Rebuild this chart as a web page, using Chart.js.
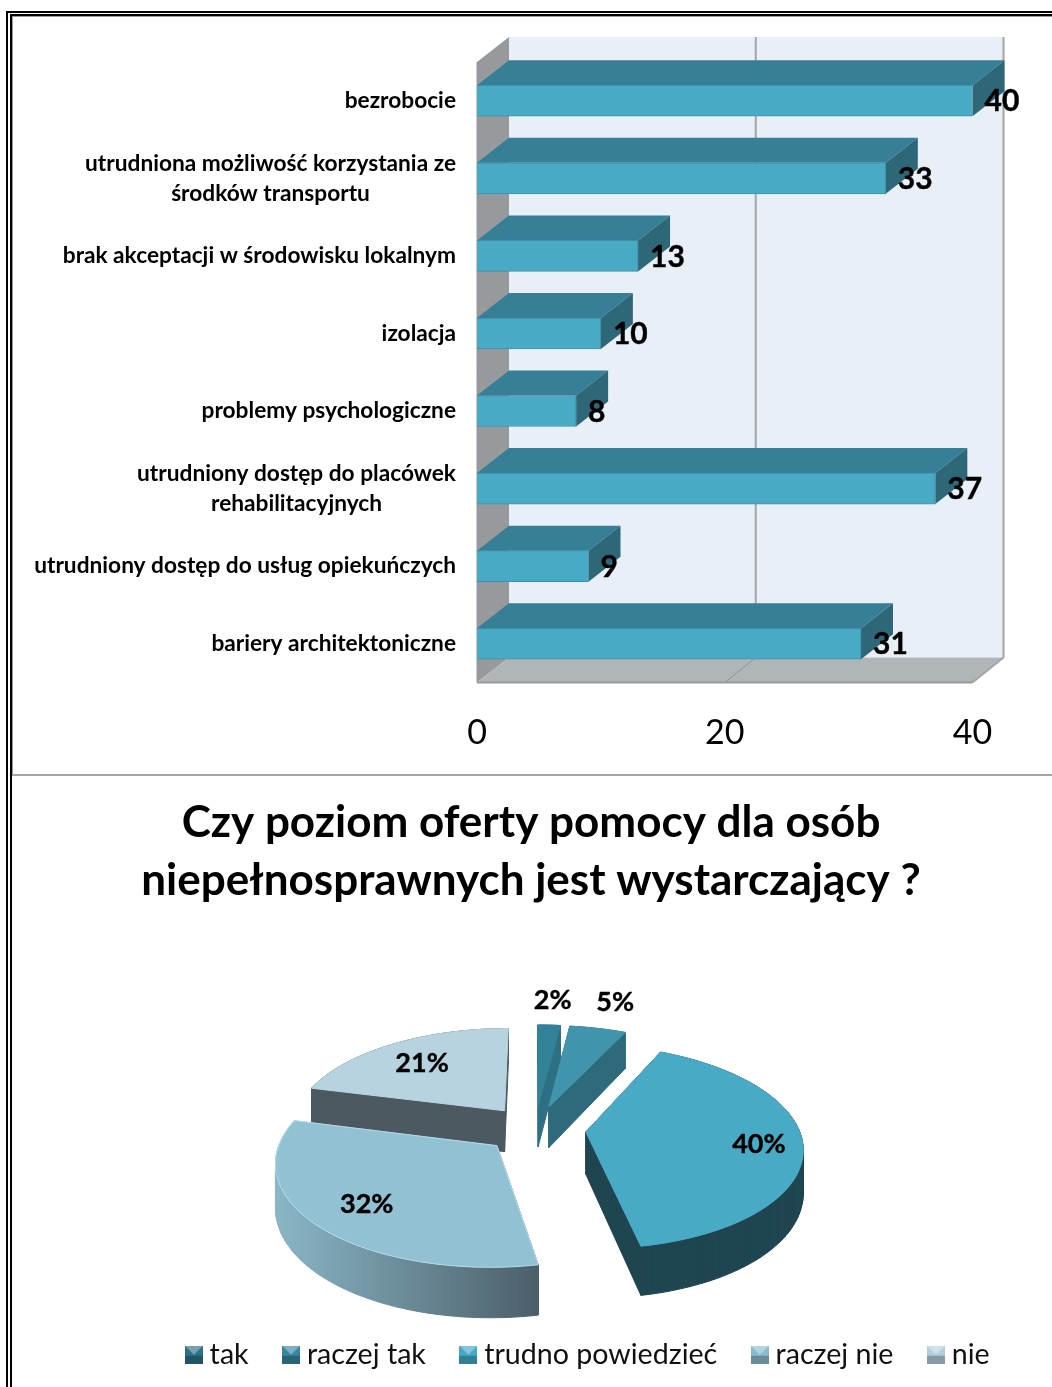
<!DOCTYPE html>
<html lang="pl">
<head>
<meta charset="utf-8">
<title>Bariery i poziom oferty pomocy</title>
<script src="https://cdn.jsdelivr.net/npm/chart.js@4"></script>
<style>
  html, body { margin: 0; padding: 0; background: #fff; }
  body { position: relative; width: 1052px; height: 1387px; overflow: hidden; }
  canvas { position: absolute; }
  #barChart { left: 0; top: 0; }
  #pieChart { left: 10px; top: 776px; }
  .frame { position: absolute; background: #000; }
</style>
</head>
<body>
<canvas id="barChart" width="1052" height="775"></canvas>
<canvas id="pieChart" width="1042" height="611"></canvas>
<div class="frame" style="left:6px;top:11px;width:2px;height:1376px"></div>
<div class="frame" style="left:10px;top:14px;width:2px;height:1373px"></div>
<div class="frame" style="left:12px;top:16px;width:1px;height:760px;background:#999"></div>
<div class="frame" style="left:6px;top:11px;width:1046px;height:2px"></div>
<div class="frame" style="left:10px;top:14px;width:1042px;height:2px"></div>
<div class="frame" style="left:12px;top:16px;width:1040px;height:1px;background:#999"></div>
<div class="frame" style="left:12px;top:774px;width:1040px;height:2px;background:#a6a6a6"></div>

<script>
// Bar chart data
const barCategories = [
  ["bezrobocie"],
  ["utrudniona możliwość korzystania ze", "środków transportu"],
  ["brak akceptacji w środowisku lokalnym"],
  ["izolacja"],
  ["problemy psychologiczne"],
  ["utrudniony dostęp do placówek", "rehabilitacyjnych"],
  ["utrudniony dostęp do usług opiekuńczych"],
  ["bariery architektoniczne"],
];
const barValues = [40, 33, 13, 10, 8, 37, 9, 31];
const barTicks = [0, 20, 40];

// Pie chart data
const pieTitle = ["Czy poziom oferty pomocy dla osób", "niepełnosprawnych jest wystarczający ?"];
const pieCategories = ["tak", "raczej tak", "trudno powiedzieć", "raczej nie", "nie"];
const pieValues = [2, 5, 40, 32, 21];

// Slice colours
const pieTopColors = ["#32829a", "#4095ad", "#49aac6", "#92c1d3", "#b7d3df"];
const pieSideColors = ["#2d6f83", "#2f6a7c", "#1f4551", null, "#4d5960"];
const pieLegendColors = ["#2c7186", "#37869e", "#42aac6", "#8bbccd", "#b3cfdb"];

const FONT = "Lato, Carlito, sans-serif";

document.addEventListener("DOMContentLoaded", function () {
  // 3D look of the bars: walls, floor and the top/side of every bar
  const DEPTH_X = 32;
  const DEPTH_Y = 25;

  function poly(ctx, points, fill) {
    ctx.beginPath();
    points.forEach((p, i) => (i ? ctx.lineTo(p[0], p[1]) : ctx.moveTo(p[0], p[1])));
    ctx.closePath();
    ctx.fillStyle = fill;
    ctx.fill();
  }

  const bar3dPlugin = {
    id: "bar3d",
    beforeDatasetsDraw(chart) {
      const { ctx, chartArea: a, scales } = chart;
      const backL = a.left + DEPTH_X;
      const backR = a.right + DEPTH_X;
      const backT = a.top - DEPTH_Y;
      const backB = a.bottom - DEPTH_Y;
      ctx.save();
      poly(ctx, [[backL, backT], [backR, backT], [backR, backB], [backL, backB]], "#e8eff7");
      poly(ctx, [[a.left, a.top], [backL, backT], [backL, backB], [a.left, a.bottom]], "#97999d");
      poly(ctx, [[a.left, a.bottom], [backL, backB], [backR, backB], [a.right, a.bottom]], "#b0b5b8");

      // gridlines run over the back wall and the floor
      ctx.strokeStyle = "#a3a5a7";
      ctx.lineWidth = 2;
      scales.x.ticks.forEach((t) => {
        if (t.value === 0) return;
        const x = scales.x.getPixelForValue(t.value);
        ctx.beginPath();
        ctx.moveTo(x + DEPTH_X - 1, backT);
        ctx.lineTo(x + DEPTH_X - 1, backB);
        ctx.stroke();
        if (t.value === 40) {
          ctx.beginPath();
          ctx.moveTo(x + DEPTH_X - 1, backB);
          ctx.lineTo(x, a.bottom);
          ctx.stroke();
        } else {
          ctx.lineWidth = 1;
          ctx.strokeStyle = "#8f9396";
          ctx.beginPath();
          ctx.moveTo(x + DEPTH_X - 1, backB);
          ctx.lineTo(x, a.bottom);
          ctx.stroke();
          ctx.lineWidth = 2;
          ctx.strokeStyle = "#a3a5a7";
        }
      });
      ctx.beginPath();
      ctx.moveTo(a.left, a.bottom);
      ctx.lineTo(a.right, a.bottom);
      ctx.strokeStyle = "#96999b";
      ctx.stroke();
      ctx.beginPath();
      ctx.moveTo(a.left, a.top);
      ctx.lineTo(a.left, a.bottom);
      ctx.lineWidth = 1;
      ctx.stroke();

      chart.getDatasetMeta(0).data.forEach((bar) => {
        const h = bar.height / 2;
        const x0 = bar.base;
        const x1 = bar.x;
        const top = bar.y - h;
        const bottom = bar.y + h;
        poly(ctx, [[x0, top], [x0 + DEPTH_X, top - DEPTH_Y], [x1 + DEPTH_X, top - DEPTH_Y], [x1, top]], "#377f96");
        poly(ctx, [[x1, top], [x1 + DEPTH_X, top - DEPTH_Y], [x1 + DEPTH_X, bottom - DEPTH_Y], [x1, bottom]], "#2e6878");
      });
      ctx.restore();
    },
    afterDatasetsDraw(chart) {
      const { ctx, scales } = chart;
      ctx.save();
      ctx.fillStyle = "#000";
      ctx.strokeStyle = "#000";
      // value labels
      ctx.font = "bold 30px " + FONT;
      ctx.textAlign = "left";
      ctx.textBaseline = "middle";
      ctx.lineWidth = 0.4;
      chart.getDatasetMeta(0).data.forEach((bar, i) => {
        ctx.fillText(barValues[i], bar.x + 12, bar.y + 1);
        ctx.strokeText(barValues[i], bar.x + 12, bar.y + 1);
      });
      // category labels, wrapped lines are centred inside their block
      ctx.font = "bold 22.7px " + FONT;
      barCategories.forEach((lines, i) => {
        const y = scales.y.getPixelForTick(i);
        const widest = Math.max(...lines.map((l) => ctx.measureText(l).width));
        const right = 456;
        ctx.textAlign = "center";
        lines.forEach((line, n) => {
          ctx.fillText(line, right - widest / 2, y + (n - (lines.length - 1) / 2) * 30);
        });
      });
      ctx.restore();
    },
  };

  new Chart(document.getElementById("barChart"), {
    type: "bar",
    data: {
      labels: barCategories,
      datasets: [
        {
          data: barValues,
          backgroundColor: "#49aac6",
          borderColor: "#3c90a9",
          borderWidth: 1,
          barThickness: 31,
        },
      ],
    },
    options: {
      indexAxis: "y",
      responsive: false,
      animation: false,
      events: [],
      layout: { padding: { top: 62, right: 79.5, bottom: 0, left: 0 } },
      plugins: { legend: { display: false }, tooltip: { enabled: false } },
      scales: {
        x: {
          min: 0,
          max: 40,
          afterBuildTicks(scale) {
            scale.ticks = barTicks.map((value) => ({ value }));
          },
          afterFit(scale) {
            scale.height = 92.5;
          },
          grid: { display: false },
          border: { display: false },
          ticks: {
            color: "#000",
            padding: 22,
            maxRotation: 0,
            font: { family: FONT, size: 34 },
          },
        },
        y: {
          afterFit(scale) {
            scale.width = 477;
          },
          grid: { display: false },
          border: { display: false },
          ticks: { display: false },
        },
      },
    },
    plugins: [bar3dPlugin],
  });

  // Pie: the library lays out the angles, this plugin tilts them in perspective
  const PIE_X = 535 - 10;
  const PIE_Y = 1129 - 776;
  const PIE_RADIUS = 213;
  const PIE_OFFSET = 51;
  const PIE_TILT = 0.4645;
  const PIE_DIST = 1481;
  const PIE_DROP = 42;
  const drawOrder = [4, 0, 1, 2, 3];
  const labelRadius = [1.4, 1.42, 0.8, 0.74, 0.72];

  function project(u, v, drop) {
    const s = 1 / (1 + v / PIE_DIST);
    return [PIE_X + u * s, PIE_Y - PIE_TILT * v * s + (drop || 0) * s];
  }

  function sliceOutline(arc) {
    const mid = (arc.startAngle + arc.endAngle) / 2;
    const off = arc.options.offset;
    const ou = Math.cos(mid) * off;
    const ov = -Math.sin(mid) * off;
    const pts = [[ou, ov]];
    const steps = Math.max(2, Math.ceil((arc.endAngle - arc.startAngle) / 0.03));
    for (let i = 0; i <= steps; i++) {
      const a = arc.startAngle + ((arc.endAngle - arc.startAngle) * i) / steps;
      pts.push([ou + Math.cos(a) * arc.outerRadius, ov - Math.sin(a) * arc.outerRadius]);
    }
    return pts;
  }

  const pie3dPlugin = {
    id: "pie3d",
    afterLayout(chart) {
      // legend sits right of centre in the original
      chart.legend.left += 60;
      chart.legend.right += 60;
      chart.legend.top -= 8;
      chart.legend.bottom -= 8;
    },
    beforeDatasetsDraw(chart) {
      const { ctx } = chart;
      const arcs = chart.getDatasetMeta(0).data;
      ctx.save();
      ctx.lineWidth = 1;
      ctx.lineJoin = "round";
      drawOrder.forEach((i) => {
        const pts = sliceOutline(arcs[i]);
        let side = pieSideColors[i];
        if (!side) {
          side = ctx.createLinearGradient(PIE_X - 260, 0, PIE_X + 5, 0);
          side.addColorStop(0, "#8ab6c7");
          side.addColorStop(1, "#4a5e68");
        }
        // outer wall and cut faces
        pts.forEach((p, n) => {
          const q = pts[(n + 1) % pts.length];
          const a = project(p[0], p[1]);
          const b = project(q[0], q[1]);
          const c = project(q[0], q[1], PIE_DROP);
          const d = project(p[0], p[1], PIE_DROP);
          ctx.strokeStyle = side;
          poly(ctx, [a, b, c, d], side);
          ctx.stroke();
        });
        // top face
        poly(ctx, pts.map((p) => project(p[0], p[1])), pieTopColors[i]);
        ctx.strokeStyle = i === 3 ? "#b5dcea" : pieTopColors[i];
        ctx.stroke();
      });

      // percentage labels
      ctx.fillStyle = "#000";
      ctx.strokeStyle = "#000";
      ctx.lineWidth = 0.4;
      ctx.font = "bold 27px " + FONT;
      ctx.textAlign = "center";
      ctx.textBaseline = "middle";
      arcs.forEach((arc, i) => {
        const mid = (arc.startAngle + arc.endAngle) / 2;
        const r = arc.outerRadius * labelRadius[i] + arc.options.offset;
        const p = project(Math.cos(mid) * r, -Math.sin(mid) * r);
        ctx.fillText(pieValues[i] + "%", p[0], p[1] + 2);
        ctx.strokeText(pieValues[i] + "%", p[0], p[1] + 2);
      });
      ctx.restore();
      return false;
    },
  };

  // small shaded legend keys
  function legendKey(color) {
    const key = document.createElement("canvas");
    key.width = 18;
    key.height = 18;
    const c = key.getContext("2d");
    c.fillStyle = color;
    c.fillRect(0, 0, 18, 18);
    c.fillStyle = "rgba(0,0,0,0.25)";
    c.fillRect(0, 10, 18, 8);
    c.fillStyle = "rgba(255,255,255,0.35)";
    c.beginPath();
    c.moveTo(0, 0);
    c.lineTo(18, 0);
    c.lineTo(9, 9);
    c.closePath();
    c.fill();
    return key;
  }

  new Chart(document.getElementById("pieChart"), {
    type: "pie",
    data: {
      labels: pieCategories,
      datasets: [
        {
          data: pieValues,
          backgroundColor: pieTopColors,
          borderWidth: 0,
          radius: PIE_RADIUS,
          offset: PIE_OFFSET,
        },
      ],
    },
    options: {
      responsive: false,
      animation: false,
      events: [],
      plugins: {
        tooltip: { enabled: false },
        title: {
          display: true,
          text: pieTitle,
          color: "#000",
          font: { family: FONT, size: 44, weight: "bold", lineHeight: 1.32 },
          padding: { top: 18, bottom: 20 },
        },
        legend: {
          position: "bottom",
          labels: {
            usePointStyle: true,
            pointStyleWidth: 3,
            padding: 41,
            color: "#111",
            font: { family: FONT, size: 28.6 },
            generateLabels(chart) {
              const items = Chart.overrides.pie.plugins.legend.labels.generateLabels(chart);
              items.forEach((item, i) => {
                item.pointStyle = legendKey(pieLegendColors[i]);
              });
              return items;
            },
          },
        },
      },
    },
    plugins: [pie3dPlugin],
  });
});
</script>
</body>
</html>
